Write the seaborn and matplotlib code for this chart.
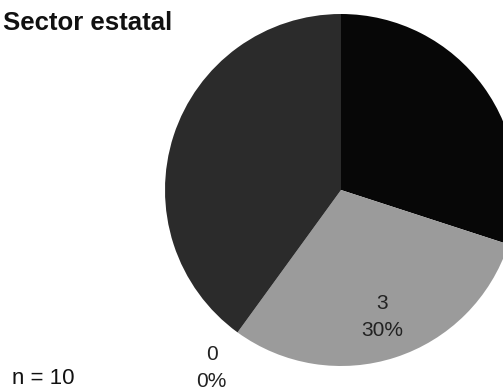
import numpy as np
import matplotlib
matplotlib.use("Agg")
import matplotlib.pyplot as plt
import seaborn as sns

# Respuestas del sector estatal (n = 10)
categories = ["A", "B", "C", "D"]
counts = [3, 3, 0, 4]
slice_colors = ["#070707", "#9b9b9b", "#cfcfcf", "#2b2b2b"]
# etiquetas visibles solo sobre las porciones claras y las vacías
show_label = [False, True, True, False]

sns.set_theme(style="white")
plt.rcParams["font.family"] = ["Liberation Sans", "DejaVu Sans"]

W, H = 503, 391
fig = plt.figure(figsize=(W / 100, H / 100), dpi=100)
fig.patch.set_facecolor("white")

# eje del pastel: radio ~176 px, centro en (341, 190) px
R = 176
cx, cy = 341, 190
ax = fig.add_axes([(cx - R) / W, (H - cy - R) / H, 2 * R / W, 2 * R / H])

wedges, _ = ax.pie(counts, colors=slice_colors, startangle=90,
                   counterclock=False, radius=1.0,
                   wedgeprops=dict(linewidth=0))
ax.set_xlim(-1, 1)
ax.set_ylim(-1, 1)
ax.set_aspect("equal")
ax.axis("off")

total = sum(counts)
for w, c, show in zip(wedges, counts, show_label):
    if not show:
        continue
    mid = np.deg2rad((w.theta1 + w.theta2) / 2)
    r = 0.76 if c > 0 else 1.25
    x, y = r * np.cos(mid), r * np.sin(mid)
    ax.text(x, y, f"{c}\n{c / total:.0%}", ha="center", va="center",
            fontsize=15, color="#222222", linespacing=1.5, clip_on=False)

fig.text(3 / W, 1 - 11 / H, "Sector estatal", ha="left", va="top",
         fontsize=18.5, fontweight="bold", color="#111111")
fig.text(12 / W, 1 - 384 / H, f"n = {total}", ha="left", va="baseline",
         fontsize=16, color="#111111")

fig.savefig("out.png", dpi=100, facecolor="white")
